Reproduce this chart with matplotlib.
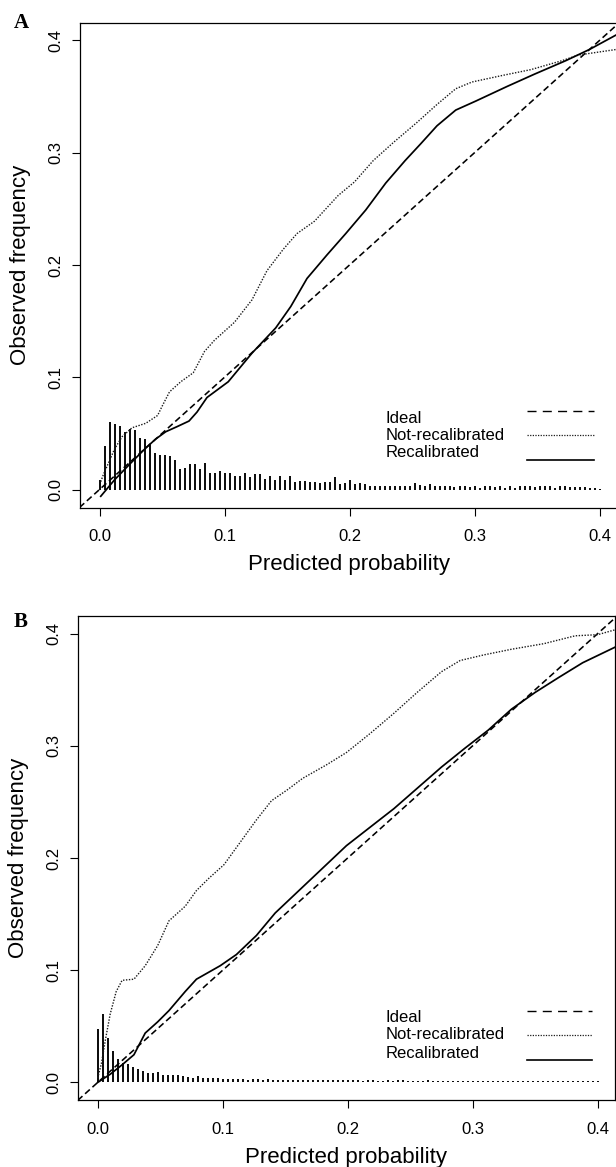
import numpy as np
import matplotlib
matplotlib.use("Agg")
import matplotlib.pyplot as plt
from matplotlib.lines import Line2D

plt.rcParams['font.family'] = ['Liberation Sans', 'DejaVu Sans']

# ---------------- data ----------------
bin_step = 0.004
bin_centers = np.round(np.arange(101) * bin_step, 4)

hist_A = [0.0083, 0.0386, 0.060, 0.058, 0.057, 0.051, 0.054, 0.053, 0.046, 0.045,
          0.0395, 0.0327, 0.0312, 0.031, 0.0297, 0.0267, 0.0187, 0.0196, 0.0229, 0.0226,
          0.0187, 0.024, 0.0151, 0.0151, 0.0163, 0.015, 0.015, 0.0119, 0.0119, 0.015,
          0.0113, 0.0137, 0.0134, 0.009, 0.012, 0.0085, 0.012, 0.0085, 0.012, 0.007,
          0.0075, 0.0075, 0.007, 0.0065, 0.0055, 0.007, 0.007, 0.011, 0.005, 0.006,
          0.0085, 0.005, 0.0055, 0.0045, 0.0035, 0.003, 0.003, 0.003, 0.0035, 0.003,
          0.0035, 0.003, 0.0035, 0.0055, 0.004, 0.003, 0.005, 0.0035, 0.003, 0.0035,
          0.003, 0.0025, 0.003, 0.0035, 0.002, 0.003, 0.0015, 0.0035, 0.003, 0.002,
          0.0035, 0.0015, 0.003, 0.0015, 0.003, 0.003, 0.0035, 0.002, 0.003, 0.0035,
          0.003, 0.0015, 0.003, 0.003, 0.002, 0.002, 0.0025, 0.002, 0.0015, 0.0015,
          0.0008]

hist_B = [0.0475, 0.061, 0.040, 0.028, 0.0205, 0.0175, 0.016, 0.0139, 0.0116, 0.0101,
          0.008, 0.008, 0.0089, 0.0065, 0.0065, 0.0065, 0.0065, 0.006, 0.005, 0.0042,
          0.006, 0.0036, 0.0042, 0.0042, 0.0036, 0.003, 0.003, 0.0035, 0.003, 0.003,
          0.0025, 0.003, 0.003, 0.0025, 0.003, 0.0025, 0.0025, 0.0022, 0.0025, 0.0022,
          0.0025, 0.0022, 0.0022, 0.0025, 0.0022, 0.0022, 0.002, 0.0022, 0.002, 0.0022,
          0.002, 0.0018, 0.0018, 0.0012, 0.0018, 0.0018, 0.0012, 0.0012, 0.0018, 0.0012,
          0.0018, 0.0018, 0.0012, 0.0012, 0.0012, 0.0012, 0.0025, 0.0012, 0.0012, 0.0012,
          0.0012, 0.0012, 0.0012, 0.0012, 0.0012, 0.0012, 0.0012, 0.0012, 0.0012, 0.0012,
          0.0012, 0.0012, 0.0012, 0.0012, 0.0012, 0.0012, 0.0012, 0.0012, 0.0012, 0.0012,
          0.0012, 0.0012, 0.0012, 0.0012, 0.0012, 0.0012, 0.0012, 0.0012, 0.0012, 0.0012,
          0.0012]

notrecal_A_x = [0.001, 0.003, 0.012, 0.018, 0.026, 0.037, 0.0465, 0.050, 0.056, 0.065,
                0.075, 0.084, 0.092, 0.108, 0.122, 0.134, 0.147, 0.158, 0.172, 0.191,
                0.204, 0.219, 0.235, 0.254, 0.270, 0.285, 0.298, 0.323, 0.345, 0.370,
                0.383, 0.4135]
notrecal_A_y = [0.007, 0.013, 0.036, 0.047, 0.055, 0.059, 0.066, 0.074, 0.087, 0.096,
                0.104, 0.123, 0.133, 0.149, 0.169, 0.195, 0.214, 0.228, 0.239, 0.262,
                0.274, 0.293, 0.309, 0.327, 0.343, 0.357, 0.363, 0.369, 0.374, 0.382,
                0.387, 0.392]

recal_A_x = [0.001, 0.012, 0.0245, 0.037, 0.045, 0.053, 0.062, 0.0716, 0.078, 0.086,
             0.103, 0.122, 0.141, 0.153, 0.166, 0.182, 0.197, 0.213, 0.229, 0.2445,
             0.257, 0.270, 0.285, 0.301, 0.326, 0.348, 0.373, 0.392, 0.4135]
recal_A_y = [-0.006, 0.0086, 0.023, 0.037, 0.045, 0.0515, 0.056, 0.061, 0.069, 0.082,
             0.096, 0.1215, 0.144, 0.163, 0.188, 0.209, 0.228, 0.249, 0.273, 0.293,
             0.308, 0.324, 0.338, 0.346, 0.359, 0.370, 0.382, 0.392, 0.405]

notrecal_B_x = [0.0, 0.003, 0.006, 0.010, 0.0148, 0.0195, 0.029, 0.038, 0.048, 0.057,
                0.070, 0.079, 0.089, 0.101, 0.114, 0.127, 0.139, 0.152, 0.164, 0.183,
                0.199, 0.218, 0.237, 0.256, 0.275, 0.290, 0.309, 0.331, 0.357, 0.382,
                0.400, 0.416]
notrecal_B_y = [0.004, 0.017, 0.037, 0.061, 0.081, 0.091, 0.092, 0.104, 0.122, 0.144,
                0.157, 0.171, 0.182, 0.194, 0.214, 0.234, 0.251, 0.261, 0.271, 0.283,
                0.294, 0.311, 0.329, 0.348, 0.366, 0.376, 0.381, 0.386, 0.391, 0.398,
                0.399, 0.404]

recal_B_x = [0.0, 0.010, 0.0195, 0.029, 0.038, 0.048, 0.057, 0.070, 0.079, 0.098,
             0.111, 0.127, 0.142, 0.161, 0.180, 0.199, 0.218, 0.237, 0.256, 0.275,
             0.2935, 0.3125, 0.331, 0.350, 0.369, 0.388, 0.416]
recal_B_y = [0.0, 0.0073, 0.0157, 0.0247, 0.044, 0.054, 0.064, 0.081, 0.092, 0.104,
             0.114, 0.131, 0.151, 0.171, 0.191, 0.211, 0.2275, 0.244, 0.2625, 0.281,
             0.2976, 0.314, 0.3326, 0.3476, 0.361, 0.374, 0.389]

ticks = [0.0, 0.1, 0.2, 0.3, 0.4]
tick_labels = ["0.0", "0.1", "0.2", "0.3", "0.4"]
legend_labels = ["Ideal", "Not-recalibrated", "Recalibrated"]
xlabel = "Predicted probability"
ylabel = "Observed frequency"

# ---------------- figure ----------------
W, H = 616, 1167
fig = plt.figure(figsize=(W / 100, H / 100), dpi=100)

axA = fig.add_axes([79.5 / W, (H - 507.5) / H, 540 / W, 485 / H])
axB = fig.add_axes([77.7 / W, (H - 1100.4) / H, 537.5 / W, 484.8 / H])

lim = (-0.016, 0.416)
dash_style = (0, (4, 2.2))
dot_style = (0, (1, 1.1))

panels = [
    (axA, hist_A, notrecal_A_x, notrecal_A_y, recal_A_x, recal_A_y,
     (0.1845, 0.1485, 0.1135), (0.1985, 0.1485, 0.097), (0.566, 0.828, 0.952),
     "A", 23, lim),
    (axB, hist_B, notrecal_B_x, notrecal_B_y, recal_B_x, recal_B_y,
     (0.170, 0.135, 0.097), (0.184, 0.134, 0.083), (0.572, 0.835, 0.957),
     "B", 622, (-0.016, 0.414)),
]

for (ax, hist, nx, ny, rx, ry, txt_y, line_y, leg_x, letter, letter_y, xl) in panels:
    ax.set_xlim(*xl)
    ax.set_ylim(*lim)
    ax.vlines(bin_centers, 0, hist, color='black', lw=1.35)
    ax.axline((0, 0), slope=1, color='black', lw=1.15, linestyle=dash_style)
    ax.plot(nx, ny, color='#1a1a1a', lw=1.0, linestyle=dot_style)
    ax.plot(rx, ry, color='black', lw=1.25)

    ax.set_xticks(ticks)
    ax.set_xticklabels(tick_labels)
    ax.set_yticks(ticks)
    ax.set_yticklabels(tick_labels)
    ax.tick_params(axis='both', direction='out', length=5.8, width=0.8,
                   labelsize=12, colors='black')
    ax.tick_params(axis='x', pad=9.5)
    ax.tick_params(axis='y', pad=11.5)
    for lab in ax.get_yticklabels():
        lab.set_rotation(90)
        lab.set_va('center')
        lab.set_ha('center')
    for sp in ax.spines.values():
        sp.set_linewidth(0.9)

    ax.set_xlabel(xlabel, fontsize=16, va='center')
    ax.xaxis.set_label_coords(0.5, -0.118)
    ax.set_ylabel(ylabel, fontsize=16, va='center')
    ax.yaxis.set_label_coords(-0.110, 0.5)

    # legend (manual, R style)
    for lbl, ty in zip(legend_labels, txt_y):
        ax.text(leg_x[0], ty, lbl, transform=ax.transAxes, fontsize=12,
                ha='left', va='center')
    styles = [((0, (6.5, 4.5)), 1.0, 'black'), (dot_style, 0.9, '#1a1a1a'), ('-', 1.2, 'black')]
    for (ls, lw, c), ly in zip(styles, line_y):
        ax.add_line(Line2D([leg_x[1], leg_x[2]], [ly, ly], transform=ax.transAxes,
                           color=c, lw=lw, linestyle=ls))

    fig.text(21 / W, 1 - letter_y / H, letter, fontfamily='Liberation Serif',
             fontweight='bold', fontsize=15, ha='center', va='center')

fig.savefig("out.png", dpi=100)
